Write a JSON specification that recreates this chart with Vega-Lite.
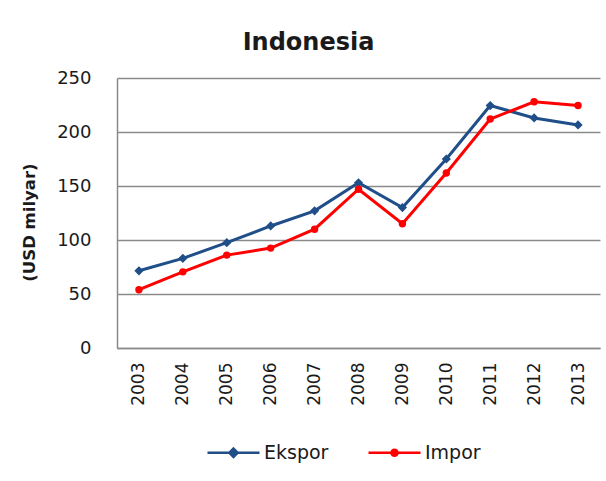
{
  "$schema": "https://vega.github.io/schema/vega-lite/v6.json",
  "autosize": "none",
  "width": 483,
  "height": 270,
  "padding": {"left": 117, "top": 78, "right": 6, "bottom": 133},
  "background": "white",
  "title": {
    "text": "Indonesia",
    "font": "DejaVu Sans",
    "fontSize": 24,
    "fontWeight": "bold",
    "color": "#1a1a1a",
    "anchor": "middle",
    "frame": "group",
    "dx": -50,
    "dy": 31,
    "offset": 26,
    "baseline": "alphabetic"
  },
  "data": {
    "values": [
      {"year": "2003", "series": "Ekspor", "value": 71.5},
      {"year": "2004", "series": "Ekspor", "value": 83},
      {"year": "2005", "series": "Ekspor", "value": 97.5},
      {"year": "2006", "series": "Ekspor", "value": 113},
      {"year": "2007", "series": "Ekspor", "value": 127},
      {"year": "2008", "series": "Ekspor", "value": 153},
      {"year": "2009", "series": "Ekspor", "value": 130},
      {"year": "2010", "series": "Ekspor", "value": 175},
      {"year": "2011", "series": "Ekspor", "value": 224.5},
      {"year": "2012", "series": "Ekspor", "value": 213},
      {"year": "2013", "series": "Ekspor", "value": 206.5},
      {"year": "2003", "series": "Impor", "value": 54},
      {"year": "2004", "series": "Impor", "value": 70.5},
      {"year": "2005", "series": "Impor", "value": 86},
      {"year": "2006", "series": "Impor", "value": 92.5},
      {"year": "2007", "series": "Impor", "value": 110},
      {"year": "2008", "series": "Impor", "value": 147},
      {"year": "2009", "series": "Impor", "value": 115},
      {"year": "2010", "series": "Impor", "value": 162},
      {"year": "2011", "series": "Impor", "value": 212},
      {"year": "2012", "series": "Impor", "value": 228},
      {"year": "2013", "series": "Impor", "value": 224.5}
    ]
  },
  "encoding": {
    "x": {
      "field": "year",
      "type": "ordinal",
      "scale": {"type": "point", "padding": 0.5},
      "axis": {
        "title": null,
        "labelAngle": 270,
        "labelFont": "DejaVu Sans",
        "labelFontSize": 17,
        "labelColor": "#1a1a1a",
        "labelPadding": 14,
        "ticks": false,
        "tickSize": 0,
        "domainColor": "#8a8a8a",
        "domainWidth": 1.5,
        "grid": false
      }
    },
    "y": {
      "field": "value",
      "type": "quantitative",
      "scale": {"domain": [0, 250], "nice": false},
      "axis": {
        "title": "(USD milyar)",
        "titleFont": "DejaVu Sans",
        "titleFontSize": 16.5,
        "titleFontWeight": "bold",
        "titleColor": "#1a1a1a",
        "titlePadding": 19,
        "titleY": 144,
        "values": [0, 50, 100, 150, 200, 250],
        "labelFont": "DejaVu Sans",
        "labelFontSize": 18,
        "labelColor": "#1a1a1a",
        "labelPadding": 26,
        "ticks": false,
        "tickSize": 0,
        "domainColor": "#8a8a8a",
        "domainWidth": 1.5,
        "grid": true,
        "gridColor": "#8a8a8a",
        "gridWidth": 1.5
      }
    }
  },
  "layer": [
    {
      "mark": {"type": "line", "strokeWidth": 3},
      "encoding": {
        "color": {
          "field": "series",
          "type": "nominal",
          "scale": {"domain": ["Ekspor", "Impor"], "range": ["#1f4e89", "#ff0000"]},
          "legend": {
            "title": null,
            "orient": "none",
            "direction": "horizontal",
            "legendX": 89,
            "legendY": 347,
            "symbolSize": 2704,
            "symbolStrokeWidth": 2.5,
            "labelFont": "DejaVu Sans",
            "labelFontSize": 19,
            "labelColor": "#1a1a1a",
            "labelOffset": 3,
            "columnPadding": 34
          }
        }
      }
    },
    {
      "transform": [{"filter": "datum.series == 'Ekspor'"}],
      "mark": {"type": "point", "shape": "diamond", "filled": true, "size": 85, "opacity": 1},
      "encoding": {
        "color": {"field": "series", "type": "nominal"}
      }
    },
    {
      "transform": [{"filter": "datum.series == 'Impor'"}],
      "mark": {"type": "point", "shape": "circle", "filled": true, "size": 55, "opacity": 1},
      "encoding": {
        "color": {"field": "series", "type": "nominal"}
      }
    },
    {
      "transform": [{"filter": "false"}],
      "mark": {"type": "point", "opacity": 1},
      "encoding": {
        "color": {"field": "series", "type": "nominal"},
        "shape": {
          "field": "series",
          "type": "nominal",
          "scale": {
            "domain": ["Ekspor", "Impor"],
            "range": [
              "M-1,0L1,0M0,-0.16L0.16,0L0,0.16L-0.16,0Z",
              "M-1,0L1,0M-0.12,0A0.12,0.12 0 1,0 0.12,0A0.12,0.12 0 1,0 -0.12,0Z"
            ]
          },
          "legend": {
            "title": null,
            "orient": "none",
            "direction": "horizontal",
            "legendX": 89,
            "legendY": 347,
            "symbolSize": 2704,
            "symbolStrokeWidth": 2.5,
            "labelFont": "DejaVu Sans",
            "labelFontSize": 19,
            "labelColor": "#1a1a1a",
            "labelOffset": 3,
            "columnPadding": 34
          }
        }
      }
    }
  ],
  "config": {
    "view": {"stroke": null}
  }
}
